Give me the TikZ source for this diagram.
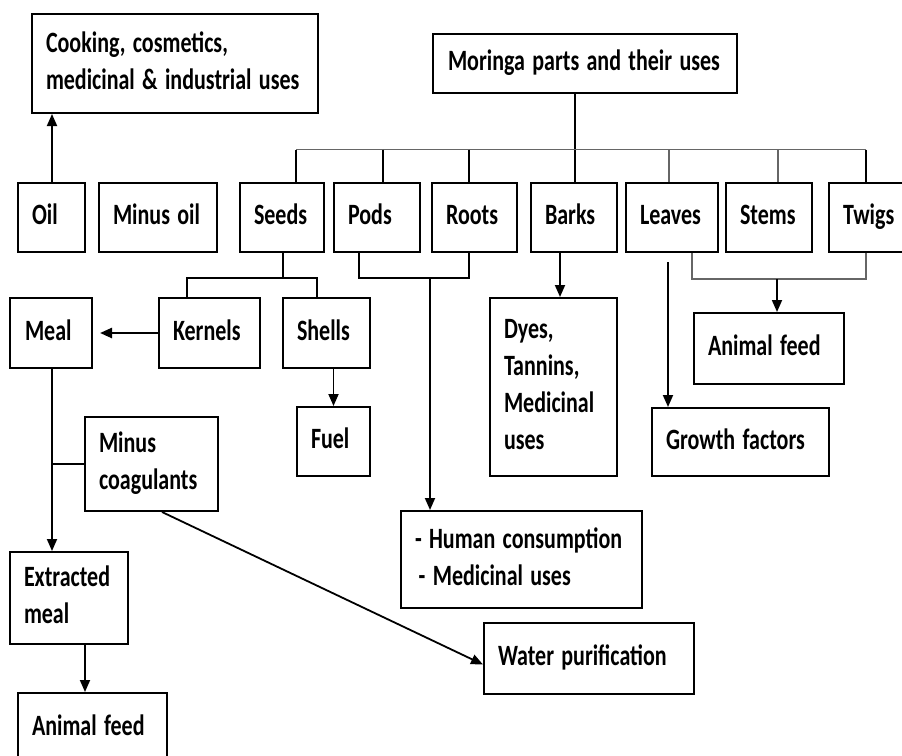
\documentclass[tikz,border=0pt]{standalone}
\usepackage{fontspec}
\setmainfont{Carlito}
\usetikzlibrary{arrows.meta,calc}
\newcommand\T[1]{\scalebox{0.746}[1]{\bfseries\begin{tabular}{@{}l@{}}#1\end{tabular}}}
\begin{document}
\begin{tikzpicture}[x=1pt,y=-1pt,
  box/.style={draw, line width=2pt, anchor=north west, inner xsep=14pt, inner ysep=0pt,
    align=left, font=\fontsize{29.5}{37}\selectfont},
  ln/.style={line width=1.8pt},
  bus/.style={line width=1.8pt, draw=black!60},
  arr/.style={line width=1.8pt, -{Triangle[length=12pt,width=10pt]}}]
\useasboundingbox (0,0) rectangle (902,755);
\clip (0,0) rectangle (902,755);
% boxes
\node[box, text width=258pt, minimum height=99pt] (cook) at (31,13) {\T{Cooking, cosmetics,\\medicinal \& industrial uses}};
\node[box, text width=274pt, minimum height=59pt, inner xsep=15pt] (moringa) at (432,33) {\T{Moringa parts and their uses}};
\node[box, text width=39pt, minimum height=69pt] (oil) at (17,182) {\T{Oil}};
\node[box, text width=90pt, minimum height=69pt] (minusoil) at (98,182) {\T{Minus oil}};
\node[box, text width=56pt, minimum height=69pt] (seeds) at (239,182) {\T{Seeds}};
\node[box, text width=58pt, minimum height=69pt] (pods) at (333,182) {\T{Pods}};
\node[box, text width=57pt, minimum height=69pt] (roots) at (431,182) {\T{Roots}};
\node[box, text width=58pt, minimum height=69pt] (barks) at (530,182) {\T{Barks}};
\node[box, text width=64pt, minimum height=69pt] (leaves) at (625,182) {\T{Leaves}};
\node[box, text width=58pt, minimum height=69pt] (stems) at (725,182) {\T{Stems}};
\node[box, text width=57pt, minimum height=69pt] (twigs) at (828,182) {\T{Twigs}};
\node[box, text width=73pt, minimum height=70pt] (kernels) at (158,297) {\T{Kernels}};
\node[box, text width=59pt, minimum height=70pt] (shells) at (282,297) {\T{Shells}};
\node[box, text width=52pt, minimum height=70pt, inner xsep=15pt] (meal) at (9,297) {\T{Meal}};
\node[box, text width=45pt, minimum height=69pt] (fuel) at (296,406) {\T{Fuel}};
\node[box, text width=105pt, minimum height=94pt] (coag) at (84,416) {\T{Minus\\coagulants}};
\node[box, text width=99pt, minimum height=178pt] (dyes) at (489,297) {\T{Dyes,\\Tannins,\\Medicinal\\uses}};
\node[box, text width=122pt, minimum height=71pt] (feedR) at (693,312) {\T{Animal feed}};
\node[box, text width=149pt, minimum height=68pt] (growth) at (651,407) {\T{Growth factors}};
\node[box, text width=213pt, minimum height=97pt] (human) at (400,510) {\T{- Human consumption\\\hspace*{5pt}- Medicinal uses}};
\node[box, text width=90pt, minimum height=92pt] (extr) at (9,551) {\T{Extracted\\meal}};
\node[box, text width=121pt, minimum height=70pt] (feedL) at (17,692) {\T{Animal feed}};
\node[box, text width=182pt, minimum height=71pt] (water) at (483,622) {\T{Water purification}};
% top tree
\coordinate (busL) at (296,149.5);
\coordinate (busR) at (866,149.5);
\draw[ln] (moringa.south -| 575,0) -- (barks.north -| 575,0);
\draw[bus] (busL) -- (busR);
\draw[ln] (busL) -- (seeds.north -| busL);
\draw[ln] (383,149.5) -- (pods.north -| 383,0);
\draw[ln] (469,149.5) -- (roots.north -| 469,0);
\draw[bus] (669,149.5) -- (leaves.north -| 669,0);
\draw[bus] (778,149.5) -- (stems.north -| 778,0);
\draw[ln] (busR) -- (twigs.north -| busR);
% oil
\draw[arr] (oil.north -| 52,0) -- (cook.south -| 52,0);
% seeds
\coordinate (sj) at (283,278);
\draw[ln] (seeds.south -| sj) -- (sj);
\draw[ln] (kernels.north -| 187,0) -- (187,278) -- (317,278) -- (shells.north -| 317,0);
\draw[line width=2.4pt, -{Triangle[length=12pt,width=10pt]}, shorten >=7pt] (kernels.west) -- (meal.east);
\draw[arr] (shells.south -| fuel.north) -- (fuel.north);
% meal
\draw[arr] (meal.south -| 52,0) -- (extr.north -| 52,0);
\draw[ln] (coag.west -| 52,0) -- (coag.west);
\draw[arr] (extr.south -| 85,0) -- (feedL.north -| 85,0);
\draw[arr] ($(coag.south west)+(78,0)$) -- ($(water.west)+(0,6)$);
% pods & roots
\draw[ln] (pods.south -| 359,0) -- (359,278) -- (469,278) -- (roots.south -| 469,0);
\draw[arr] (430,278) -- (human.north -| 430,0);
% barks
\draw[arr] (barks.south -| 560,0) -- (dyes.north -| 560,0);
% leaves
\coordinate (lg) at (668,262);
\draw[arr] (lg) -- (growth.north -| lg);
\draw[bus] (leaves.south -| 692,0) -- (692,279) -- (866,279) -- (twigs.south -| 866,0);
\draw[arr] (777,279) -- (feedR.north -| 777,0);
\end{tikzpicture}
\end{document}
